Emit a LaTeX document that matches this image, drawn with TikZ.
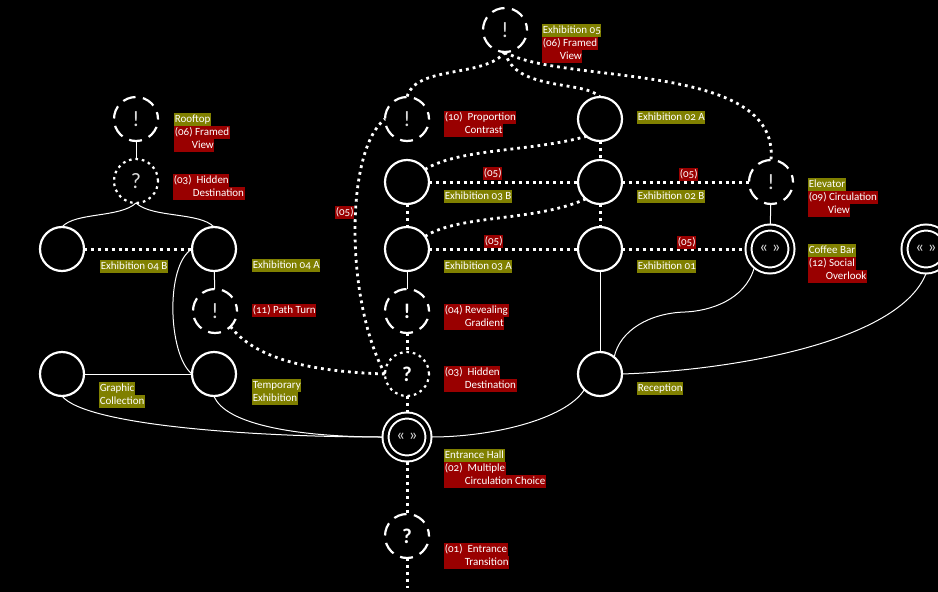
\documentclass[tikz,border=0pt]{standalone}
\usepackage{fontspec}
\setmainfont[Numbers=OldStyle]{Carlito}
\definecolor{labolive}{HTML}{808000}
\definecolor{labred}{HTML}{990000}
\definecolor{ink}{HTML}{FFFFFF}
\tikzset{
  plain/.style={circle,draw=ink,line width=2.2pt,minimum size=44pt,inner sep=0pt,outer sep=0pt,text=ink!85!black,font=\fontsize{22}{22}\selectfont,fill=black},
  dashring/.style={plain,dash pattern=on 13pt off 7.5pt,dash phase=6pt},
  dotring/.style={plain,dash pattern=on 2.6pt off 3.9pt},
  dblring/.style={plain,double=black,double distance=4pt,line width=2pt,minimum size=43pt,outer sep=3pt,font=\fontsize{17}{17}\selectfont},
  boldring/.style={text=ink,font=\fontsize{21}{21}\selectfont\bfseries},
  dotlink/.style={draw=ink,line width=3pt,dash pattern=on 3pt off 3.9pt},
  dotcurve/.style={draw=ink,line width=2.8pt,dash pattern=on 2.8pt off 4pt},
  solidlink/.style={draw=ink,line width=1pt},
  lab/.style={anchor=west,yshift=-0.7pt,text=ink,inner sep=0pt,inner xsep=0.6pt,minimum height=13pt,text height=8.5pt,text depth=2.5pt,font=\fontsize{11}{13}\selectfont},
  oliv/.style={lab,fill=labolive},
  redl/.style={lab,fill=labred},
}
\newcommand{\ind}[1]{\hspace*{#1pt}}
\begin{document}
\begin{tikzpicture}[x=1pt,y=-1pt]
\useasboundingbox (0,0) rectangle (938,592);
\fill[black] (0,0) rectangle (938,592);
\clip (0,0) rectangle (938,592);
\coordinate (tail) at (407,588);
\node[dashring] (top) at (505,30) {!};
\node[dashring] (roof) at (136,119) {!};
\node[dotring] (hidL) at (136,181) {?};
\node[plain] (e4b) at (62,249) {};
\node[plain] (e4a) at (214,249) {};
\node[dashring] (turn) at (215,311) {!};
\node[plain] (graph) at (62,374) {};
\node[plain] (temp) at (214,374) {};
\node[dashring] (prop) at (407,119) {!};
\node[plain] (e2a) at (600,119) {};
\node[plain] (e3b) at (407,182) {};
\node[plain] (e2b) at (600,182) {};
\node[dashring] (elev) at (771,182) {!};
\node[plain] (e3a) at (407,249) {};
\node[plain] (e1) at (600,249) {};
\node[dblring] (cof) at (770,249) {« »};
\node[dblring] (far) at (926,249) {« »};
\node[dashring,boldring] (rev) at (407,311) {!};
\node[dotring,boldring] (hidC) at (407,374) {?};
\node[plain] (rec) at (600,374) {};
\node[dblring] (hall) at (407,437) {« »};
\node[dashring,boldring] (ent) at (407,536) {?};
% dotted
\draw[dotcurve] (top.south) .. controls (485,78) and (415,65) .. (prop.north);
\draw[dotcurve] (top.south) .. controls (515,92) and (585,80) .. (e2a.north);
\draw[dotcurve] (top.south) .. controls (560,85) and (780,60) .. (elev.north);
\draw[dotcurve] (e3b.35) .. controls (460,148) and (530,152) .. (e2a.-128);
\draw[dotcurve] (e3a.35) .. controls (460,214) and (535,222) .. (e2b.-130);
\draw[dotcurve] (hidC.west) .. controls (345,300) and (345,150) .. (prop.west);
\draw[dotcurve] (turn.-45) .. controls (260,365) and (330,372) .. (hidC.west);
\draw[dotlink] (e4b) -- (e4a);
\draw[dotlink] (e3b) -- (e2b);
\draw[dotlink] (e2b) -- (elev);
\draw[dotlink] (e3a) -- (e1);
\draw[dotlink] (e1) -- (cof);
\draw[dotlink] (e2a) -- (e2b);
\draw[dotlink] (e2b) -- (e1);
\draw[dotlink] (e3b) -- (e3a);
\draw[dotlink] (rev) -- (hidC);
\draw[dotlink] (hidC) -- (hall);
\draw[dotlink] (hall) -- (ent);
\draw[dotlink] (ent) -- (tail);
% solid
\draw[solidlink] (roof) -- (hidL);
\draw[solidlink] (hidL.south) .. controls (120,218) and (75,212) .. (e4b.north);
\draw[solidlink] (hidL.south) .. controls (152,218) and (200,212) .. (e4a.north);
\draw[solidlink] (e4a) -- (turn);
\draw[solidlink] (e4a.west) .. controls (165,265) and (168,355) .. (temp.west);
\draw[solidlink] (graph) -- (temp);
\draw[solidlink] (graph.south) .. controls (85,425) and (250,437) .. (hall.west);
\draw[solidlink] (temp.south) .. controls (225,425) and (300,437) .. (hall.west);
\draw[solidlink] (hall.east) .. controls (490,437) and (565,420) .. (rec.-135);
\draw[solidlink] (e3a) -- (rev);
\draw[solidlink] (e1) -- (rec);
\draw[solidlink] (elev) -- (cof);
\draw[solidlink] (cof.-130) .. controls (745,300) and (710,311) .. (685,312) .. controls (650,313) and (620,330) .. (rec.50);
\draw[solidlink] (rec.east) .. controls (740,370) and (900,340) .. (far.south);
% labels
\node[oliv] (l1) at (542,29.5) {Exhibition 05};
\node[redl] (l2) at (542,42.5) {(06) Framed};
\node[redl] (l3) at (542,55.5) {\ind{17}View};
\node[oliv] (l4) at (174,119) {Rooftop};
\node[redl] (l5) at (174,132) {(06) Framed};
\node[redl] (l6) at (174,145) {\ind{17}View};
\node[redl] (l7) at (173,180) {(03)\ \ Hidden};
\node[redl] (l8) at (173,193) {\ind{19}Destination};
\node[oliv] (l9) at (100,266) {Exhibition 04 B};
\node[oliv] (l10) at (252,265) {Exhibition 04 A};
\node[redl] (l11) at (252,310) {(11) Path Turn};
\node[oliv] (l12) at (99,388) {Graphic};
\node[oliv] (l13) at (99,401) {Collection};
\node[oliv] (l14) at (252,385) {Temporary};
\node[oliv] (l15) at (252,398) {Exhibition};
\node[redl] (l16) at (335,212) {(05)};
\node[redl] (l17) at (444,117) {(10)\ \ Proportion};
\node[redl] (l18) at (444,130) {\ind{20}Contrast};
\node[oliv] (l19) at (637,117) {Exhibition 02 A};
\node[redl] (l20) at (483,173) {(05)};
\node[oliv] (l21) at (444,196) {Exhibition 03 B};
\node[redl] (l22) at (679,174) {(05)};
\node[oliv] (l23) at (637,196) {Exhibition 02 B};
\node[oliv] (l24) at (808,184) {Elevator};
\node[redl] (l25) at (808,197) {(09) Circulation};
\node[redl] (l26) at (808,210) {\ind{19}View};
\node[redl] (l27) at (484,241) {(05)};
\node[oliv] (l28) at (444,266) {Exhibition 03 A};
\node[redl] (l29) at (677,242) {(05)};
\node[oliv] (l30) at (637,266) {Exhibition 01};
\node[oliv] (l31) at (808,250) {Coffee Bar};
\node[redl] (l32) at (808,263) {(12) Social};
\node[redl] (l33) at (808,276) {\ind{17}Overlook};
\node[redl] (l34) at (444,310) {(04) Revealing};
\node[redl] (l35) at (444,323) {\ind{20}Gradient};
\node[redl] (l36) at (444,372) {(03)\ \ Hidden};
\node[redl] (l37) at (444,385) {\ind{20}Destination};
\node[oliv] (l38) at (637,388) {Reception};
\node[oliv] (l39) at (444,455) {Entrance Hall};
\node[redl] (l40) at (444,468) {(02)\ \ Multiple};
\node[redl] (l41) at (444,481) {\ind{20}Circulation Choice};
\node[redl] (l42) at (444,549) {(01)\ \ Entrance};
\node[redl] (l43) at (444,562) {\ind{20}Transition};
\end{tikzpicture}
\end{document}
